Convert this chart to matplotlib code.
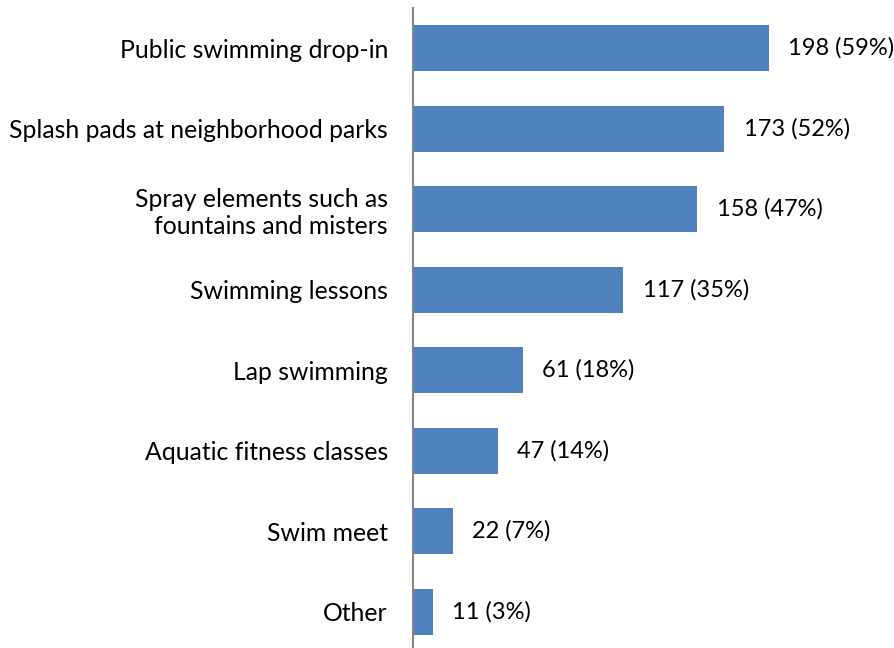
import matplotlib
matplotlib.use('Agg')
import matplotlib.pyplot as plt

# data
categories = ['Public swimming drop-in',
              'Splash pads at neighborhood parks',
              'Spray elements such as\nfountains and misters',
              'Swimming lessons',
              'Lap swimming',
              'Aquatic fitness classes',
              'Swim meet',
              'Other']
counts = [198, 173, 158, 117, 61, 47, 22, 11]
percents = [59, 52, 47, 35, 18, 14, 7, 3]

plt.rcParams['font.family'] = ['Lato', 'DejaVu Sans']

fig = plt.figure(figsize=(8.94, 6.48), dpi=100)
ax = fig.add_axes([413/894, -4/648, 1 - 413/894, 644/648])

y = list(range(len(categories)))
ax.barh(y, counts, height=0.57, color='#4F81BD')
ax.set_ylim(len(categories) - 0.5, -0.5)
ax.set_xlim(0, 267.5)

for yi, c, p in zip(y, counts, percents):
    ax.annotate('%d (%d%%)' % (c, p), (c, yi), xytext=(14, 0),
                textcoords='offset points', va='center', ha='left', fontsize=17)

ax.set_yticks(y)
ax.set_yticklabels(categories, fontsize=17.8, ha='right', linespacing=1.2)
ax.tick_params(axis='y', length=0, pad=18)
ax.set_xticks([])
for s in ['top', 'right', 'bottom']:
    ax.spines[s].set_visible(False)
ax.spines['left'].set_color('#868686')
ax.spines['left'].set_linewidth(1.5)

fig.savefig('out.png', dpi=100)
